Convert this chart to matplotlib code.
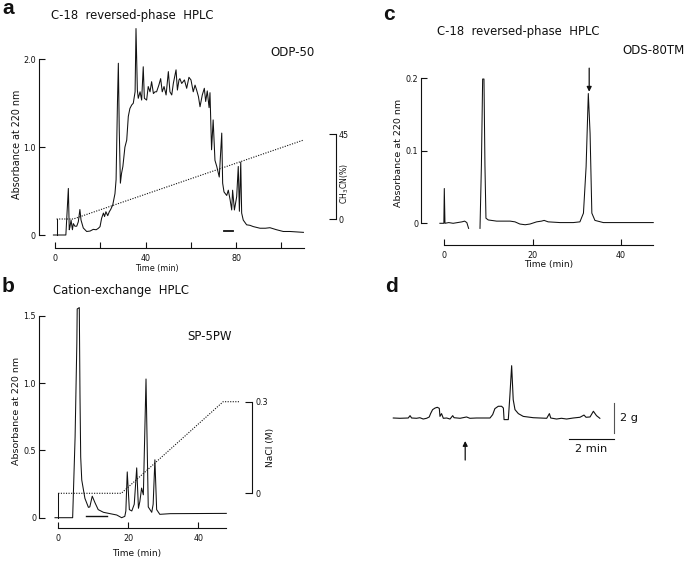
import matplotlib
matplotlib.use('Agg')
from matplotlib import pyplot as plt

W, H = 687, 561
plt.rcParams['font.family'] = 'DejaVu Sans'
INK = '#111111'

# ---- panel a : C-18 reversed-phase HPLC (ODP-50) ----
a_time = [-0.7, 4.8, 5.9, 6.3, 6.6, 7.1, 7.7, 8.1, 8.8, 9.6,
          10.3, 11.0, 11.5, 12.5, 14.0, 15.5, 16.9, 18.2, 19.1, 19.9,
          20.6, 21.4, 21.9, 22.5, 23.3, 24.0, 24.6, 25.5, 26.5, 27.0,
          27.6, 28.0, 28.4, 28.9, 29.4, 30.0, 30.9, 31.7, 32.4, 33.1,
          33.9, 34.6, 35.4, 35.8, 36.4, 36.8, 37.6, 38.3, 39.0, 39.5,
          40.5, 41.2, 42.0, 42.7, 43.5, 44.2, 44.9, 45.9, 46.7, 47.4,
          48.2, 49.1, 50.1, 50.8, 51.6, 52.3, 53.5, 54.1, 54.8, 55.2,
          56.0, 57.2, 58.2, 59.2, 60.1, 61.1, 61.9, 62.6, 63.4, 64.1,
          65.1, 66.0, 66.6, 67.3, 68.1, 68.5, 69.2, 69.9, 70.7, 71.5,
          72.6, 73.7, 74.1, 74.7, 75.9, 76.6, 77.4, 78.1, 78.5, 79.3,
          80.3, 81.0, 81.5, 82.1, 82.5, 83.2, 84.7, 86.2, 87.6, 90.6,
          93.0, 95.0, 97.9, 100.9, 103.9, 109.8]
a_abs = [0.0, 0.0, 0.53, 0.06, 0.09, 0.17, 0.06, 0.13, 0.10, 0.10,
         0.15, 0.29, 0.17, 0.08, 0.04, 0.045, 0.064, 0.06, 0.075, 0.095,
         0.19, 0.25, 0.21, 0.265, 0.22, 0.265, 0.29, 0.34, 0.47, 0.63,
         1.5, 1.955, 1.2, 0.59, 0.70, 0.78, 1.0, 1.08, 1.35, 1.44,
         1.48, 1.50, 1.63, 2.35, 1.65, 1.556, 1.63, 1.536, 1.915, 1.556,
         1.536, 1.69, 1.63, 1.745, 1.61, 1.63, 1.63, 1.706, 1.78, 1.63,
         1.69, 1.594, 1.86, 1.63, 1.594, 1.725, 1.88, 1.65, 1.765, 1.78,
         1.725, 1.765, 1.67, 1.795, 1.765, 1.63, 1.706, 1.65, 1.575, 1.46,
         1.594, 1.67, 1.52, 1.64, 1.45, 1.62, 0.97, 1.31, 0.85, 0.78,
         0.66, 1.16, 0.59, 0.49, 0.45, 0.51, 0.40, 0.285, 0.51, 0.285,
         0.436, 0.78, 0.27, 0.83, 0.25, 0.17, 0.116, 0.11, 0.096, 0.077,
         0.077, 0.083, 0.06, 0.04, 0.04, 0.03]
a_grad_time = [0.7, 8.1, 110]
a_grad_pct = [0, 0, 42]
a_fraction_time = [74.9, 78.6]
a_fraction_abs = [0.042, 0.042]

# ---- panel b : cation-exchange HPLC (SP-5PW) ----
b_time = [-0.94, 4.1, 4.8, 5.3, 5.4, 6.0, 6.2, 6.4, 6.7, 7.6,
          8.6, 9.0, 9.7, 10.5, 11.4, 12.9, 14.8, 16.7, 18.1, 19.0,
          19.3, 19.7, 20.3, 21.0, 21.7, 22.4, 22.9, 23.3, 23.8, 24.3,
          25.06, 25.7, 26.7, 27.1, 27.6, 28.1, 29.0, 32.0, 48.0]
b_abs = [0.0, 0.0, 0.6, 1.3, 1.55, 1.56, 0.9, 0.45, 0.28, 0.144,
         0.077, 0.08, 0.16, 0.11, 0.06, 0.04, 0.03, 0.02, 0.0, 0.01,
         0.05, 0.34, 0.06, 0.05, 0.10, 0.37, 0.07, 0.12, 0.22, 0.17,
         1.03, 0.08, 0.04, 0.10, 0.43, 0.06, 0.025, 0.03, 0.032]
b_grad_time = [0, 18.0, 47.1, 51.7]
b_grad_nacl = [0, 0, 0.3, 0.3]
b_fraction_time = [7.8, 13.8]
b_fraction_abs = [0.012, 0.012]

# ---- panel c : C-18 reversed-phase HPLC (ODS-80TM), two trace pieces ----
c1_time = [-1, -0.1, 0, 0.15, 1, 2, 3, 4, 4.6, 5.1, 5.5]
c1_abs = [0, 0, 0.048, 0, 0.001, 0, 0.001, 0.002, 0.003, 0.001, -0.007]
c2_time = [8.08, 8.4, 8.68, 8.98, 9.2, 9.43, 9.96, 11.85, 14.9, 16.0,
           17.1, 18.3, 19.4, 20.9, 22.0, 22.6, 23.5, 26.2, 29.2, 30.7,
           31.5, 32.1, 32.6, 33.0, 33.4, 34.1, 36.0, 47.3]
c2_abs = [-0.007, 0.08, 0.199, 0.199, 0.08, 0.007, 0.0046, 0.003, 0.003, 0.002,
          -0.001, -0.002, -0.001, 0.002, 0.003, 0.004, 0.002, 0.001, 0.001, 0.002,
          0.014, 0.078, 0.179, 0.124, 0.014, 0.004, 0.001, 0.001]
c_arrow_time = 32.8
c_arrow_abs = (0.214, 0.1815)

# ---- panel d : tension recording ----
d_time = [0, 0.3, 0.67, 0.75, 0.82, 1.04, 1.19, 1.34, 1.49, 1.61,
          1.67, 1.76, 1.87, 1.97, 2.06, 2.09, 2.16, 2.24, 2.39, 2.54,
          2.66, 2.72, 2.99, 3.28, 3.43, 3.73, 4.33, 4.45, 4.55, 4.70,
          4.85, 4.93, 4.96, 5.15, 5.22, 5.30, 5.37, 5.45, 5.60, 5.82,
          6.27, 6.87, 6.99, 7.05, 7.31, 7.53, 7.76, 8.06, 8.36, 8.54,
          8.63, 8.81, 8.96, 9.1, 9.25]
d_tension = [0, -0.02, 0, 0.16, 0, -0.02, 0.02, -0.07, -0.02, 0.07,
             0.3, 0.57, 0.68, 0.73, 0.66, 0.11, 0.3, -0.02, 0, -0.07,
             0.16, 0.02, -0.02, 0.07, -0.02, 0, 0, 0.23, 0.64, 0.8,
             0.8, 0.68, -0.11, -0.11, 1.5, 3.57, 1.25, 0.57, 0.3, 0.11,
             0.02, -0.02, 0.3, 0.0, -0.07, -0.02, -0.07, 0, 0.05, 0.2,
             0.05, 0.07, 0.46, 0.16, -0.02]
d_arrow_time = 3.22
d_arrow_g = (-2.87, -1.57)


def span(e0, e1, p0, v0, p1, v1):
    k = (v1 - v0) / (p1 - p0)
    return v0 + (e0 - p0) * k, v0 + (e1 - p0) * k


def px_axes(l, t, r, b):
    return fig.add_axes([l / W, 1 - b / H, (r - l) / W, (b - t) / H])


def ftext(x, y, s, **kw):
    fig.text(x / W, 1 - y / H, s, **kw)


def style_axes(ax, ybound, ybounds_ticks, xbound, xticks, xlabels, size=5.8):
    for side in ['top', 'right']:
        ax.spines[side].set_visible(False)
    for side in ['left', 'bottom']:
        ax.spines[side].set_linewidth(0.8)
        ax.spines[side].set_color(INK)
    ax.spines['left'].set_bounds(*ybound)
    ax.spines['bottom'].set_bounds(*xbound)
    ax.set_yticks(ybounds_ticks[0], ybounds_ticks[1])
    ax.set_xticks(xticks, xlabels)
    ax.tick_params(direction='in', length=4, width=0.8, colors=INK,
                   labelsize=size)
    ax.tick_params(axis='y', pad=2)
    ax.tick_params(axis='x', pad=4)
    ax.patch.set_alpha(0)


def right_axis(ax, frac, ylim, bounds, ticks, labels):
    tw = ax.twinx()
    tw.set_ylim(*ylim)
    for side in ['top', 'left', 'bottom']:
        tw.spines[side].set_visible(False)
    tw.spines['right'].set_position(('axes', frac))
    tw.spines['right'].set_bounds(*bounds)
    tw.spines['right'].set_linewidth(0.8)
    tw.spines['right'].set_color(INK)
    tw.set_yticks(ticks, labels)
    tw.tick_params(direction='in', length=5, width=0.8, labelsize=5.8,
                   pad=2, colors=INK)
    return tw


fig = plt.figure(figsize=(W / 100, H / 100), dpi=100)
dots = (0, (1, 1.3))

# panel a
ax_a = px_axes(38.5, 15, 320, 248)
ax_a.set_xlim(*span(38.5, 320, 55, 0, 236, 80))
ax_a.set_ylim(*span(248, 15, 235, 0, 59.3, 2.0))
style_axes(ax_a, (0, 2.0), ([0, 1.0, 2.0], ['0', '1.0', '2.0']), (0, 110),
           [0, 20, 40, 60, 80, 100], ['0', '', '40', '', '80', ''])
ax_a.plot(a_time, a_abs, color=INK, lw=0.75)
ax_a.plot(a_fraction_time, a_fraction_abs, color=INK, lw=1.3)
tw_a = right_axis(ax_a, (335.7 - 38.5) / (320 - 38.5),
                  span(248, 15, 219, 0, 134.3, 45), (0, 45), [0, 45], ['0', '45'])
tw_a.plot(a_grad_time, a_grad_pct, color=INK, lw=0.8, ls=dots)
yd = ax_a.transData.transform((0, 0))[1]
p0 = tw_a.transData.inverted().transform((0, yd))[1]
tw_a.plot([a_grad_time[0]] * 2, [p0, a_grad_pct[0]], color=INK, lw=0.75)

# panel b
ax_b = px_axes(38.8, 295, 245, 528.3)
ax_b.set_xlim(*span(38.8, 245, 58.3, 0, 198.3, 40))
ax_b.set_ylim(*span(528.3, 295, 517.7, 0, 315.7, 1.5))
style_axes(ax_b, (0, 1.5), ([0, 0.5, 1.0, 1.5], ['0', '0.5', '1.0', '1.5']),
           (0, 48), [0, 20, 40], ['0', '20', '40'])
ax_b.plot(b_time, b_abs, color=INK, lw=0.75)
ax_b.plot(b_fraction_time, b_fraction_abs, color=INK, lw=1.0)
tw_b = right_axis(ax_b, (252.3 - 38.8) / (245 - 38.8),
                  span(528.3, 295, 493.3, 0, 401.7, 0.3), (0, 0.3), [0, 0.3], ['0', '0.3'])
tw_b.plot(b_grad_time, b_grad_nacl, color=INK, lw=0.8, ls=dots)
yd = ax_b.transData.transform((0, 0))[1]
p0 = tw_b.transData.inverted().transform((0, yd))[1]
tw_b.plot([b_grad_time[0]] * 2, [p0, b_grad_nacl[0]], color=INK, lw=0.75)

# panel c
ax_c = px_axes(421, 40, 670, 245)
ax_c.set_xlim(*span(421, 670, 444.3, 0, 621, 40))
ax_c.set_ylim(*span(245, 40, 223.3, 0, 78.3, 0.2))
style_axes(ax_c, (0, 0.2), ([0, 0.1, 0.2], ['0', '0.1', '0.2']),
           (0, 47.3), [0, 20, 40], ['0', '20', '40'])
ax_c.plot(c1_time, c1_abs, color=INK, lw=0.75)
ax_c.plot(c2_time, c2_abs, color=INK, lw=0.75)
ax_c.annotate('', xy=(c_arrow_time, c_arrow_abs[1]), xytext=(c_arrow_time, c_arrow_abs[0]),
              arrowprops=dict(arrowstyle='-|>', lw=0.9, color=INK, mutation_scale=7,
                              shrinkA=0, shrinkB=0))

# panel d
ax_d = px_axes(380, 330, 687, 480)
ax_d.set_xlim(*span(380, 687, 393.3, 0, 415.63, 1))
ax_d.set_ylim(*span(480, 330, 418, 0, 403.35, 1))
ax_d.axis('off')
ax_d.plot(d_time, d_tension, color=INK, lw=0.8)
ax_d.plot([9.9, 9.9], [-1, 1], color='#555555', lw=0.8)
ax_d.plot([7.88, 9.88], [-1.45, -1.45], color=INK, lw=0.8)
ax_d.text(10.15, 0, '2 g', fontsize=8.2, ha='left', va='center', color=INK)
ax_d.text(8.85, -2.15, '2 min', fontsize=8.2, ha='center', va='center', color=INK)
ax_d.annotate('', xy=(d_arrow_time, d_arrow_g[1]), xytext=(d_arrow_time, d_arrow_g[0]),
              arrowprops=dict(arrowstyle='-|>', lw=0.9, color=INK, mutation_scale=7,
                              shrinkA=0, shrinkB=0))

# text
bold = dict(fontsize=15, fontweight='bold', family='Liberation Sans', color=INK)
ftext(2, 13.5, 'a', va='baseline', **bold)
ftext(2, 292, 'b', va='baseline', **bold)
ftext(383, 20, 'c', va='baseline', **bold)
ftext(385, 292, 'd', va='baseline', **bold)

ftext(132.5, 16, 'C-18  reversed-phase  HPLC', fontsize=8.4, ha='center', va='center', color=INK)
ftext(121, 290.7, 'Cation-exchange  HPLC', fontsize=8.4, ha='center', va='center', color=INK)
ftext(518, 31.7, 'C-18  reversed-phase  HPLC', fontsize=8.4, ha='center', va='center', color=INK)
ftext(292.5, 53, 'ODP-50', fontsize=8.5, ha='center', va='center', color=INK)
ftext(209, 336.7, 'SP-5PW', fontsize=8.5, ha='center', va='center', color=INK)
ftext(685, 50, 'ODS-80TM', fontsize=8.5, ha='right', va='center', color=INK)

lab = dict(rotation=90, ha='center', va='center', color=INK)
ftext(17, 144, 'Absorbance at 220 nm', fontsize=6.9, **lab)
ftext(17, 410.8, 'Absorbance at 220 nm', fontsize=6.8, **lab)
ftext(398.3, 153, 'Absorbance at 220 nm', fontsize=6.8, **lab)
ftext(345, 184, 'CH$_3$CN(%)', fontsize=5.6, **lab)
ftext(270, 447, 'NaCl (M)', fontsize=6.6, **lab)

ftext(156.7, 268, 'Time (min)', fontsize=5.8, ha='center', va='center', color=INK)
ftext(136.7, 553.3, 'Time (min)', fontsize=6.5, ha='center', va='center', color=INK)
ftext(549, 265, 'Time (min)', fontsize=6.5, ha='center', va='center', color=INK)

fig.savefig('out.png', dpi=100)
